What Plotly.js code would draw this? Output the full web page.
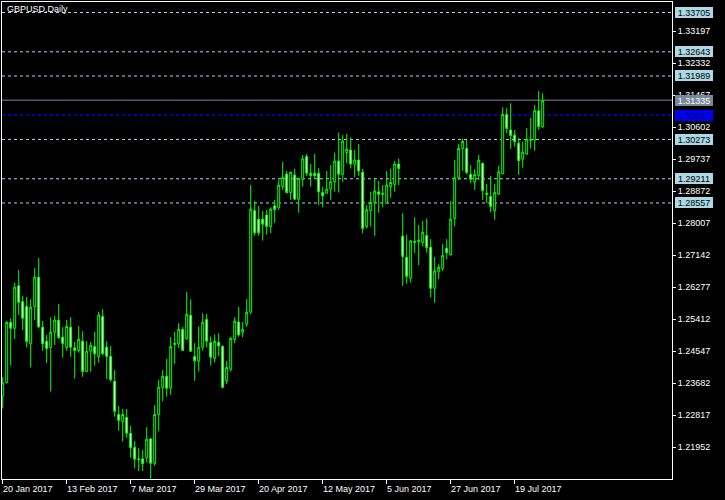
<!DOCTYPE html>
<html><head><meta charset="utf-8">
<script src="https://cdn.plot.ly/plotly-3.0.1.min.js"></script>
<style>html,body{margin:0;padding:0;background:#000;}#chart{width:725px;height:500px;}</style>
</head><body><div id="chart"></div>
<script>
const symbolTitle = 'GBPUSD,Daily';
const startDate = '2017-01-20';
const barCount = 136;

const openP = [1.2334,1.2370,1.2533,1.2517,1.2632,1.2589,1.2576,1.2475,1.2576,1.2655,
1.2520,1.2482,1.2465,1.2506,1.2539,1.2493,1.2465,1.2520,1.2464,1.2457,
1.2482,1.2400,1.2455,1.2468,1.2440,1.2549,1.2466,1.2441,1.2374,1.2284,
1.2265,1.2276,1.2233,1.2195,1.2164,1.2164,1.2167,1.2218,1.2152,1.2284,
1.2357,1.2387,1.2355,1.2473,1.2475,1.2514,1.2489,1.2552,1.2441,1.2428,
1.2466,1.2541,1.2478,1.2436,1.2479,1.2468,1.2375,1.2406,1.2487,1.2534,
1.2506,1.2528,1.2561,1.2835,1.2812,1.2812,1.2823,1.2792,1.2848,1.2843,
1.2900,1.2934,1.2884,1.2931,1.2866,1.2920,1.2981,1.2936,1.2936,1.2936,
1.2884,1.2882,1.2893,1.2913,1.2969,1.2933,1.2992,1.2999,1.2960,1.2972,
1.2939,1.2792,1.2835,1.2857,1.2886,1.2879,1.2855,1.2900,1.2906,1.2961,
1.2766,1.2709,1.2652,1.2749,1.2751,1.2749,1.2768,1.2736,1.2625,1.2671,
1.2679,1.2733,1.2716,1.2814,1.2924,1.3003,1.3003,1.2933,1.2912,1.2930,
1.2963,1.2882,1.2873,1.2835,1.2880,1.2935,1.3095,1.3053,1.3039,1.3017,
1.2974,1.2988,1.3024,1.3026,1.3105,1.3062];
const highP = [1.2385,1.2537,1.2544,1.2640,1.2675,1.2605,1.2602,1.2595,1.2680,1.2707,
1.2537,1.2499,1.2547,1.2550,1.2583,1.2520,1.2539,1.2547,1.2480,1.2523,
1.2509,1.2482,1.2480,1.2507,1.2561,1.2569,1.2482,1.2469,1.2404,1.2307,
1.2299,1.2299,1.2253,1.2212,1.2193,1.2188,1.2250,1.2220,1.2310,1.2377,
1.2404,1.2434,1.2493,1.2507,1.2531,1.2520,1.2615,1.2595,1.2477,1.2522,
1.2557,1.2556,1.2495,1.2500,1.2503,1.2471,1.2429,1.2493,1.2547,1.2575,
1.2534,1.2596,1.2904,1.2861,1.2848,1.2834,1.2837,1.2844,1.2864,1.2918,
1.2967,1.2942,1.2940,1.2948,1.2922,1.2985,1.2988,1.2961,1.2988,1.2950,
1.2900,1.2942,1.2958,1.2992,1.3046,1.3039,1.3042,1.3033,1.2999,1.3015,
1.2948,1.2850,1.2886,1.2922,1.2915,1.2904,1.2942,1.2949,1.2969,1.2976,
1.2828,1.2769,1.2756,1.2817,1.2796,1.2807,1.2814,1.2758,1.2710,1.2690,
1.2745,1.2758,1.2861,1.2972,1.3015,1.3030,1.3026,1.2958,1.2947,1.2985,
1.2965,1.2907,1.2929,1.2907,1.2956,1.3114,1.3112,1.3125,1.3053,1.3032,
1.3021,1.3058,1.3085,1.3121,1.3158,1.3152];
const lowP = [1.2300,1.2368,1.2416,1.2488,1.2553,1.2512,1.2465,1.2411,1.2539,1.2517,
1.2456,1.2423,1.2346,1.2472,1.2488,1.2438,1.2456,1.2440,1.2381,1.2451,
1.2386,1.2399,1.2400,1.2416,1.2424,1.2445,1.2380,1.2373,1.2278,1.2240,
1.2211,1.2221,1.2167,1.2138,1.2131,1.2131,1.2154,1.2110,1.2145,1.2238,
1.2320,1.2332,1.2337,1.2421,1.2463,1.2457,1.2486,1.2453,1.2375,1.2400,
1.2457,1.2465,1.2416,1.2425,1.2442,1.2356,1.2366,1.2400,1.2477,1.2494,
1.2493,1.2521,1.2555,1.2767,1.2767,1.2754,1.2770,1.2774,1.2802,1.2837,
1.2891,1.2881,1.2864,1.2864,1.2829,1.2900,1.2929,1.2900,1.2922,1.2850,
1.2844,1.2882,1.2864,1.2886,1.2884,1.2913,1.2963,1.2949,1.2925,1.2929,
1.2774,1.2787,1.2792,1.2767,1.2829,1.2844,1.2853,1.2870,1.2886,1.2904,
1.2632,1.2637,1.2640,1.2720,1.2688,1.2738,1.2721,1.2600,1.2586,1.2650,
1.2672,1.2704,1.2713,1.2792,1.2918,1.2942,1.2933,1.2909,1.2891,1.2918,
1.2864,1.2855,1.2830,1.2810,1.2877,1.2933,1.3044,1.3002,1.3008,1.2931,
1.2951,1.2985,1.3003,1.2997,1.3053,1.3058];
const closeP = [1.2369,1.2533,1.2517,1.2628,1.2587,1.2544,1.2481,1.2574,1.2655,1.2521,
1.2475,1.2462,1.2506,1.2539,1.2492,1.2476,1.2522,1.2466,1.2457,1.2487,
1.2400,1.2455,1.2471,1.2448,1.2553,1.2448,1.2441,1.2378,1.2292,1.2268,
1.2284,1.2233,1.2194,1.2163,1.2162,1.2151,1.2217,1.2152,1.2284,1.2358,
1.2387,1.2355,1.2468,1.2476,1.2514,1.2457,1.2555,1.2455,1.2429,1.2466,
1.2533,1.2482,1.2439,1.2482,1.2469,1.2357,1.2411,1.2490,1.2536,1.2499,
1.2514,1.2560,1.2839,1.2775,1.2775,1.2798,1.2792,1.2839,1.2838,1.2904,
1.2925,1.2884,1.2939,1.2866,1.2922,1.2975,1.2936,1.2930,1.2929,1.2886,
1.2875,1.2893,1.2913,1.2969,1.2933,1.3023,1.3001,1.2961,1.2972,1.2942,
1.2787,1.2837,1.2857,1.2888,1.2879,1.2882,1.2904,1.2911,1.2961,1.2949,
1.2711,1.2657,1.2753,1.2752,1.2755,1.2776,1.2735,1.2625,1.2672,1.2682,
1.2714,1.2721,1.2812,1.2924,1.3003,1.3022,1.2938,1.2920,1.2933,1.2971,
1.2889,1.2879,1.2846,1.2884,1.2940,1.3095,1.3057,1.3038,1.3021,1.2970,
1.2993,1.3028,1.3028,1.3105,1.3062,1.3132];

const xTickIndex = [0,16,32,48,64,80,96,112,128];
const xTickLabels = ['20 Jan 2017','13 Feb 2017','7 Mar 2017','29 Mar 2017','20 Apr 2017','12 May 2017','5 Jun 2017','27 Jun 2017','19 Jul 2017'];
const yTicks = [1.33197,1.32332,1.31467,1.30602,1.29737,1.28872,1.28007,1.27142,1.26277,1.25412,1.24547,1.23682,1.22817,1.21952];
const dashedLevels = [1.33705,1.32643,1.31989,1.30273,1.29211,1.28557];
const bidLevel = 1.31335;
const blueLevel = 1.30927;

function weekdays(start, n){
  const out=[]; const d=new Date(start+'T00:00:00Z');
  while(out.length<n){ const w=d.getUTCDay(); if(w!==0&&w!==6) out.push(d.toISOString().slice(0,10)); d.setUTCDate(d.getUTCDate()+1); }
  return out;
}
const dates = weekdays(startDate, barCount);

const FONT = 'Liberation Sans, Arial, sans-serif';
const trace = {
  type:'candlestick', x:dates, open:openP, high:highP, low:lowP, close:closeP,
  increasing:{line:{color:'#00FF00',width:1}, fillcolor:'#000000'},
  decreasing:{line:{color:'#00FF00',width:1}, fillcolor:'#FFFFFF'},
  whiskerwidth:0, hoverinfo:'none', showlegend:false
};

const shapes = [];
dashedLevels.forEach(v=>shapes.push({type:'line',xref:'paper',x0:0,x1:1,yref:'y',y0:v,y1:v,layer:'below',line:{color:'#ADD8E6',width:1,dash:'3px,3px'}}));
shapes.push({type:'line',xref:'paper',x0:0,x1:1,yref:'y',y0:bidLevel,y1:bidLevel,layer:'below',line:{color:'#778899',width:1}});
shapes.push({type:'line',xref:'paper',x0:0,x1:1,yref:'y',y0:blueLevel,y1:blueLevel,layer:'below',line:{color:'#0000FF',width:1.5,dash:'3px,3px'}});

const annotations = [];
annotations.push({text:symbolTitle,xref:'paper',yref:'paper',x:0,y:1,xanchor:'left',yanchor:'top',xshift:3,yshift:0,showarrow:false,font:{family:FONT,size:9,color:'#FFFFFF'}});
xTickIndex.forEach((ix,k)=>annotations.push({text:xTickLabels[k],xref:'x',yref:'paper',x:dates[ix],y:0,xanchor:'left',yanchor:'top',xshift:-2,yshift:-3,showarrow:false,font:{family:FONT,size:9,color:'#FFFFFF'}}));
function levelLabel(v,bg,fg){
  annotations.push({text:v.toFixed(5),xref:'paper',yref:'y',x:1,y:v,xanchor:'left',yanchor:'middle',xshift:3,showarrow:false,
    bgcolor:bg,borderpad:1,borderwidth:0,width:36,height:9,align:'center',font:{family:FONT,size:9,color:fg}});
}
dashedLevels.forEach(v=>levelLabel(v,'#ADD8E6','#000000'));
levelLabel(bidLevel,'#778899','#FFFFFF');
levelLabel(blueLevel,'#0000FF','#000050');

const layout = {
  width:725,height:500,
  paper_bgcolor:'#000000',plot_bgcolor:'#000000',
  margin:{l:2,r:53,t:2,b:21},
  showlegend:false,
  xaxis:{type:'category',range:[-0.175,167.325],tickmode:'array',tickvals:xTickIndex.map(i=>dates[i]),showticklabels:false,
    ticks:'outside',ticklen:4,tickcolor:'#FFFFFF',showgrid:false,zeroline:false,showline:true,mirror:true,linecolor:'#FFFFFF',linewidth:1,
    rangeslider:{visible:false},fixedrange:true},
  yaxis:{side:'right',range:[1.21096,1.33989],tickmode:'array',tickvals:yTicks,ticktext:yTicks.map(v=>v.toFixed(5)),
    ticks:'outside',ticklen:3,tickcolor:'#FFFFFF',tickfont:{family:FONT,size:9,color:'#FFFFFF'},
    showgrid:false,zeroline:false,showline:true,mirror:true,linecolor:'#FFFFFF',linewidth:1,fixedrange:true},
  shapes:shapes, annotations:annotations
};
Plotly.newPlot('chart',[trace],layout,{staticPlot:true,displayModeBar:false});
</script></body></html>
